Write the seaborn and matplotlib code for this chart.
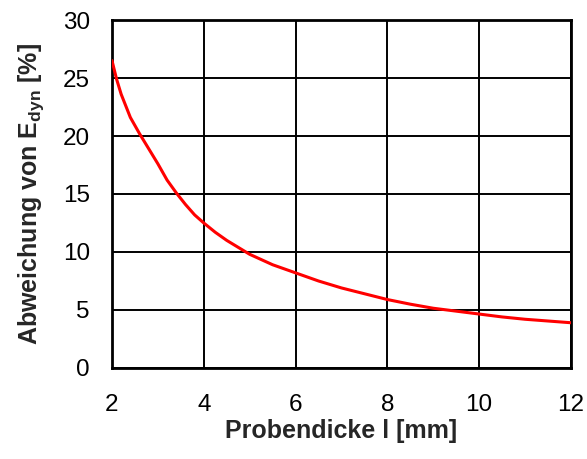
import pandas as pd
import seaborn as sns
import matplotlib.pyplot as plt

# Probendicke l [mm] vs. Abweichung von E_dyn [%]
thickness = [2.0, 2.1, 2.2, 2.4, 2.6, 2.8, 3.0, 3.2, 3.4, 3.6, 3.8, 4.0, 4.25, 4.5, 4.75,
             5.0, 5.5, 6.0, 6.5, 7.0, 7.5, 8.0, 8.5, 9.0, 9.5, 10.0, 10.5, 11.0, 11.5, 12.0]
deviation = [26.5, 24.9, 23.6, 21.6, 20.2, 18.9, 17.6, 16.2, 15.1, 14.1, 13.2, 12.5, 11.7, 11.0, 10.4,
             9.8, 8.9, 8.2, 7.5, 6.9, 6.4, 5.9, 5.5, 5.15, 4.9, 4.65, 4.4, 4.2, 4.05, 3.9]
xticks = [2, 4, 6, 8, 10, 12]
yticks = [0, 5, 10, 15, 20, 25, 30]

sns.set_theme(style="white")
plt.rcParams['font.family'] = ['Liberation Sans', 'DejaVu Sans']
plt.rcParams['mathtext.fontset'] = 'custom'
plt.rcParams['mathtext.rm'] = 'Liberation Sans'
plt.rcParams['mathtext.bf'] = 'Liberation Sans:bold'

df = pd.DataFrame({'l': thickness, 'dev': deviation})

fig = plt.figure(figsize=(5.87, 4.59), dpi=100)
ax = fig.add_axes([0.1908, 0.1983, 0.7819, 0.7581])

sns.lineplot(data=df, x='l', y='dev', ax=ax, color='#ff0000', linewidth=2.2, zorder=3)

ax.set_xlim(2, 12)
ax.set_ylim(0, 30)
ax.set_xticks(xticks)
ax.set_yticks(yticks)
ax.grid(True, color='black', linewidth=1.4)
ax.set_axisbelow(True)
for s in ax.spines.values():
    s.set_color('black')
    s.set_linewidth(2)

ax.tick_params(axis='x', length=0, pad=19, labelsize=17.5, colors='black')
ax.tick_params(axis='y', length=0, pad=16, labelsize=17.5, colors='black')

ax.set_xlabel('Probendicke l [mm]', fontsize=18, fontweight='bold', labelpad=2)
ax.set_ylabel(r'Abweichung von E$\mathbf{_{dyn}}$ [%]', fontsize=18, fontweight='bold', labelpad=12)

fig.savefig('out.png', dpi=100)
